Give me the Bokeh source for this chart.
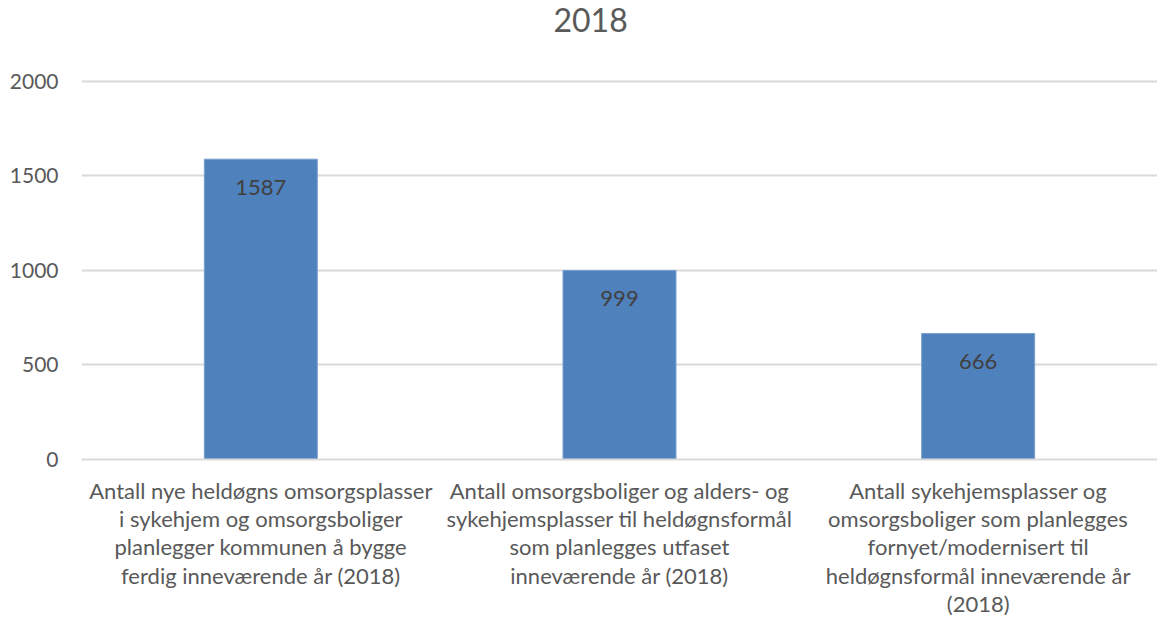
from bokeh.plotting import figure
from bokeh.models import ColumnDataSource, FactorRange, Range1d, FixedTicker, Title
from bokeh.core.properties import value
from bokeh.embed import file_html
from bokeh.resources import INLINE

title_text = "2018"
categories = [
    "Antall nye heldøgns omsorgsplasser\ni sykehjem og omsorgsboliger\nplanlegger kommunen å bygge\nferdig inneværende år (2018)",
    "Antall omsorgsboliger og alders- og\nsykehjemsplasser til heldøgnsformål\nsom planlegges utfaset\ninneværende år (2018)",
    "Antall sykehjemsplasser og\nomsorgsboliger som planlegges\nfornyet/modernisert til\nheldøgnsformål inneværende år\n(2018)",
]
values = [1587, 999, 666]
labels = [str(v) for v in values]
y_ticks = [0, 500, 1000, 1500, 2000]

FONT = "Lato"
src = ColumnDataSource(dict(cat=categories, val=values, lab=labels))

p = figure(
    width=1157, height=619,
    x_range=FactorRange(factors=categories),
    y_range=Range1d(0, 2008),
    output_backend="svg", toolbar_location=None,
    min_border_left=81, min_border_right=0, min_border_top=77, min_border_bottom=160,
)
p.outline_line_color = None
p.background_fill_color = "white"
p.border_fill_color = "white"

# spacer between the title and the plot area
p.add_layout(Title(text=" ", text_font=FONT, text_font_size="34px", standoff=0), "above")

p.title.text = title_text
p.title.align = "left"
p.title.offset = 472
p.title.text_font = FONT
p.title.text_font_size = "32px"
p.title.text_font_style = "normal"
p.title.text_color = "#595959"

p.vbar(x="cat", top="val", width=0.315, source=src,
       fill_color="#4F81BD", line_color="#7BA0D2", line_width=1)

p.text(x="cat", y="val", text="lab", source=src,
       text_font=value(FONT), text_font_size="22px", text_color="#404040",
       text_align="center", text_baseline="middle", y_offset=28)

p.yaxis.ticker = FixedTicker(ticks=y_ticks)
p.yaxis.axis_line_color = None
p.yaxis.major_tick_line_color = None
p.yaxis.minor_tick_line_color = None
p.yaxis.major_label_text_font = FONT
p.yaxis.major_label_text_font_size = "21px"
p.yaxis.major_label_text_color = "#595959"
p.yaxis.major_label_standoff = 17

p.xaxis.axis_line_color = "#D9D9D9"
p.xaxis.axis_line_width = 2
p.xaxis.major_tick_line_color = None
p.xaxis.minor_tick_line_color = None
p.xaxis.major_label_text_font = FONT
p.xaxis.major_label_text_font_size = "22px"
p.xaxis.major_label_text_color = "#595959"
p.xaxis.major_label_text_line_height = 1.05
p.xaxis.major_label_standoff = 11
p.xaxis.major_label_orientation = "horizontal"

p.xgrid.grid_line_color = None
p.ygrid.grid_line_color = "#D9D9D9"
p.ygrid.grid_line_width = 2

open("out.html", "w").write(file_html(p, INLINE))
